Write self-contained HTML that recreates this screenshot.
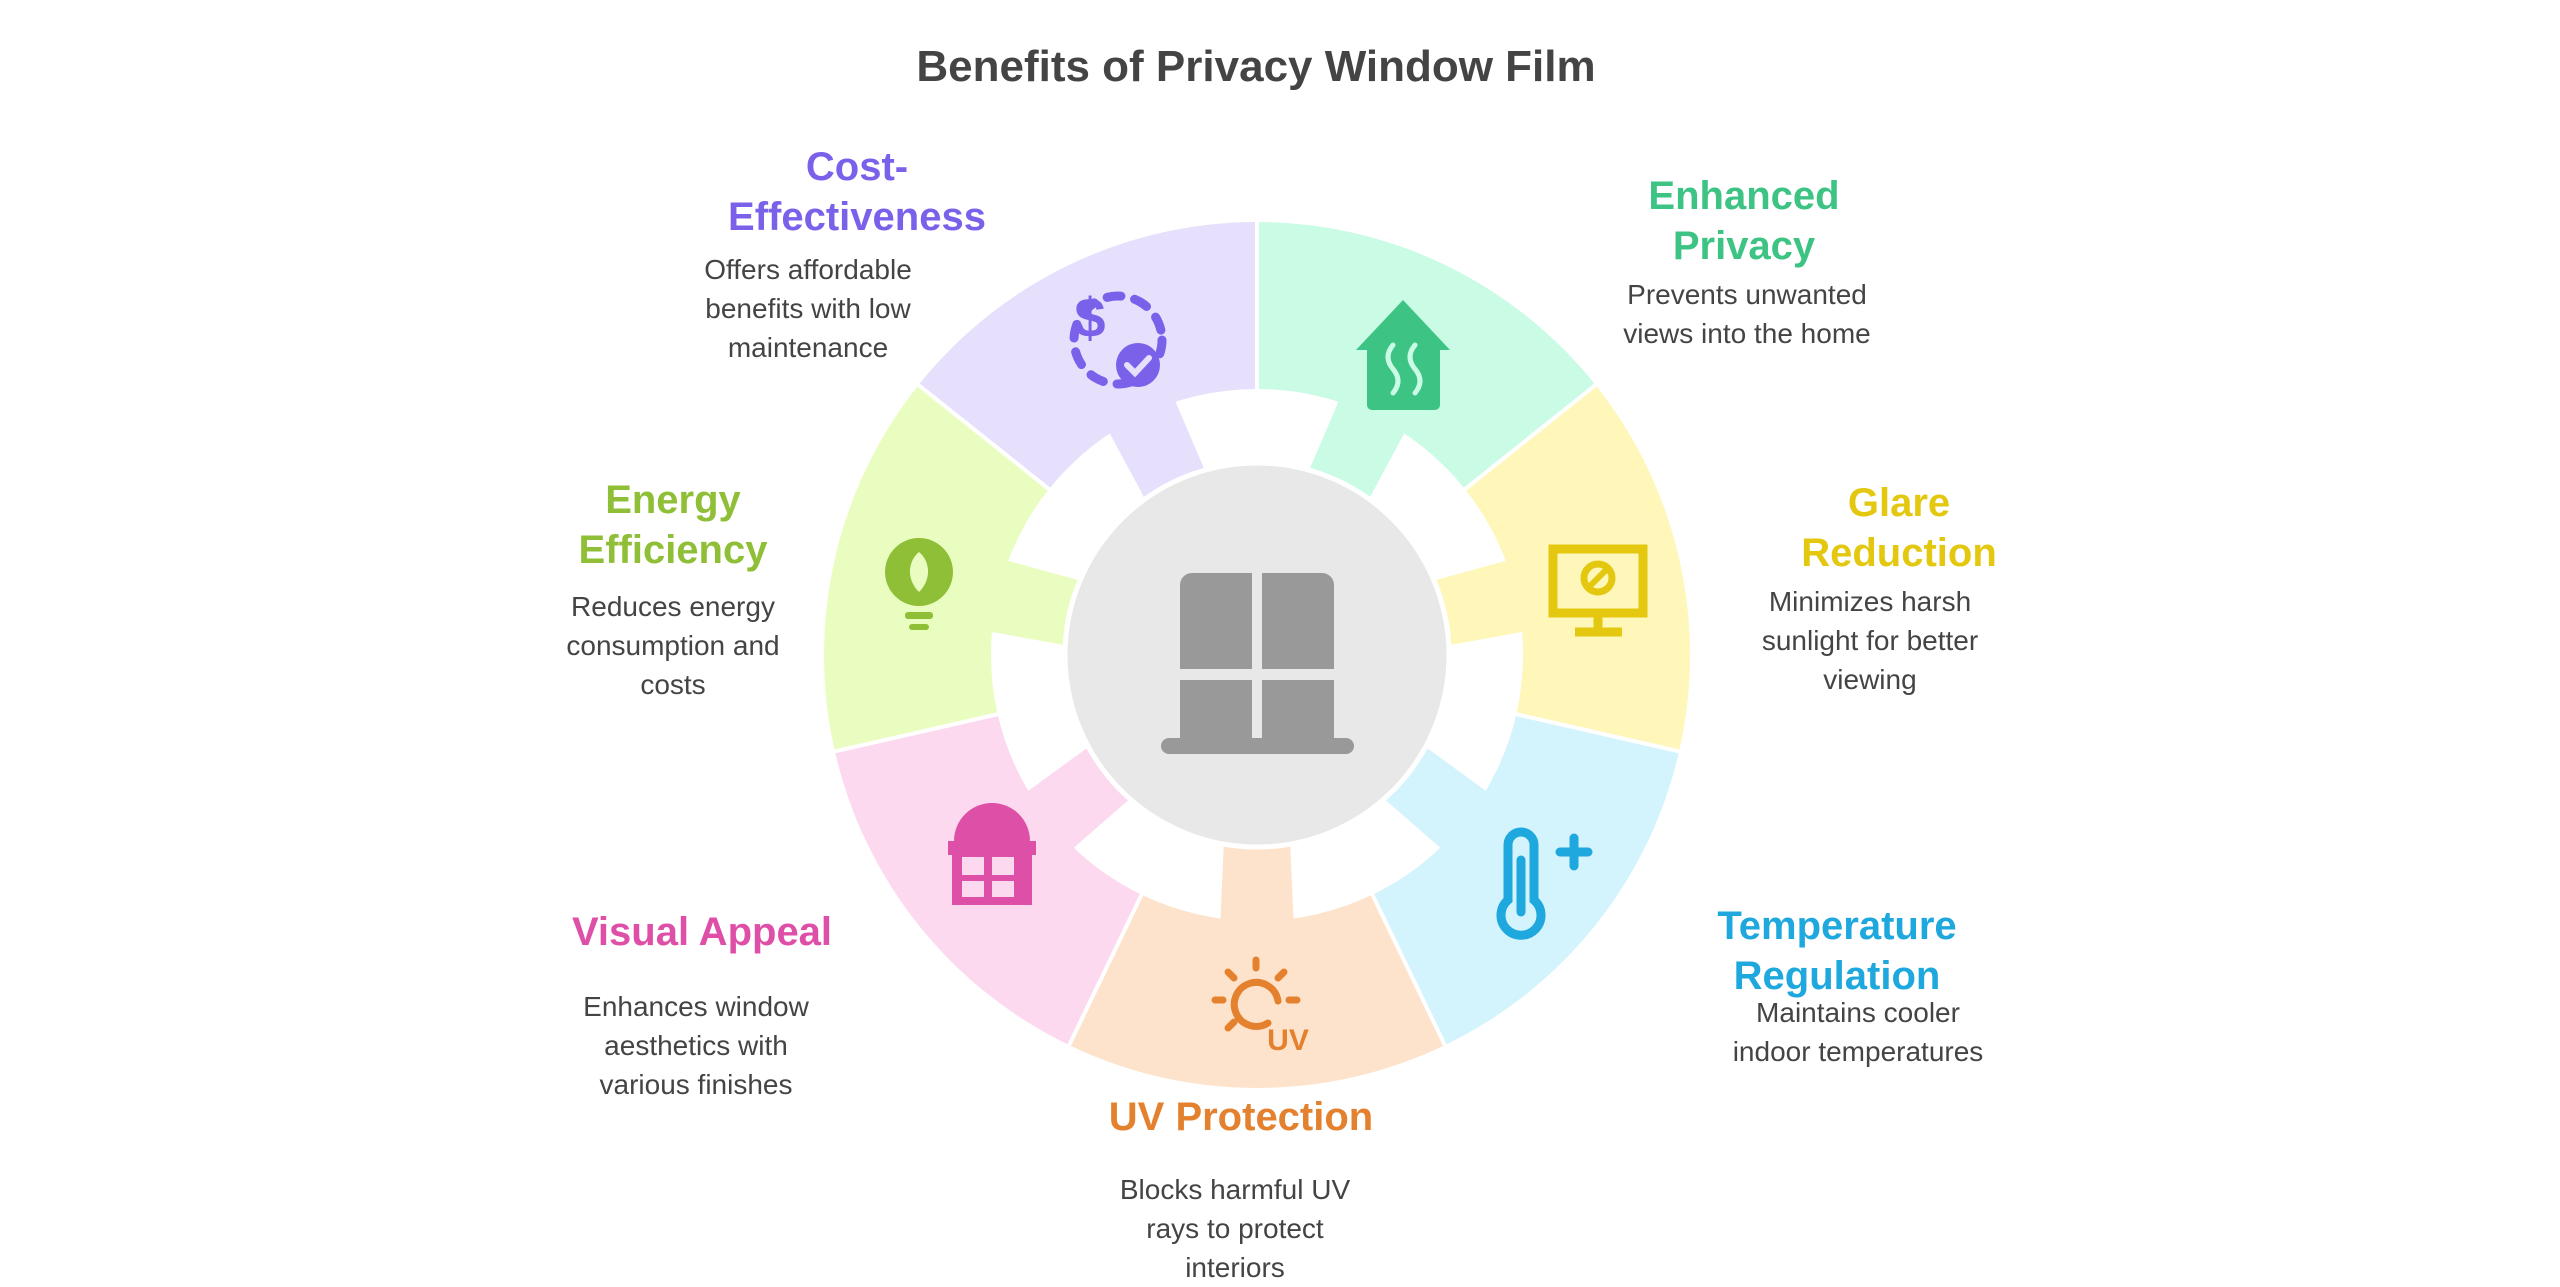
<!DOCTYPE html>
<html><head><meta charset="utf-8"><style>
html,body{margin:0;padding:0;background:#fff;}
body{width:2560px;height:1280px;position:relative;overflow:hidden;font-family:"Liberation Sans",sans-serif;}
.t{position:absolute;text-align:center;font-weight:bold;font-size:40px;line-height:50px;transform:translateX(-50%);white-space:nowrap;}
.b{position:absolute;text-align:center;font-size:28px;line-height:39px;color:#444;transform:translateX(-50%);white-space:nowrap;}
</style></head><body>
<svg width="2560" height="1280" style="position:absolute;left:0;top:0">
<defs>
<g id="seg"><path d="M1257,222 A433,433 0 0 1 1595.5,385 L1465,489.1 A266,266 0 0 0 1257,389 Z"/><path transform="rotate(25.71 1257 655)" d="M1220,380 L1294,380 L1290,470 L1224,470 Z"/></g>
</defs>
<g fill="#C9FBE5"><use href="#seg"/></g>
<g fill="#FEF7B9" transform="rotate(51.43 1257 655)"><use href="#seg"/></g>
<g fill="#D3F3FD" transform="rotate(102.86 1257 655)"><use href="#seg"/></g>
<g fill="#FDE3CB" transform="rotate(154.29 1257 655)"><use href="#seg"/></g>
<g fill="#FCD9EF" transform="rotate(205.71 1257 655)"><use href="#seg"/></g>
<g fill="#EAFDC0" transform="rotate(257.14 1257 655)"><use href="#seg"/></g>
<g fill="#E6E0FD" transform="rotate(308.57 1257 655)"><use href="#seg"/></g>
<g stroke="#fff" stroke-width="4">
<line x1="1257" y1="655" x2="1257" y2="210" transform="rotate(0 1257 655)"/>
<line x1="1257" y1="655" x2="1257" y2="210" transform="rotate(51.43 1257 655)"/>
<line x1="1257" y1="655" x2="1257" y2="210" transform="rotate(102.86 1257 655)"/>
<line x1="1257" y1="655" x2="1257" y2="210" transform="rotate(154.29 1257 655)"/>
<line x1="1257" y1="655" x2="1257" y2="210" transform="rotate(205.71 1257 655)"/>
<line x1="1257" y1="655" x2="1257" y2="210" transform="rotate(257.14 1257 655)"/>
<line x1="1257" y1="655" x2="1257" y2="210" transform="rotate(308.57 1257 655)"/>
</g>
<circle cx="1257" cy="655" r="192" fill="#E8E8E8" stroke="#fff" stroke-width="5"/>
<!-- center window -->
<g fill="#999">
<path d="M1180,585 a12,12 0 0 1 12,-12 h60 v96 h-72 Z"/>
<path d="M1262,573 h60 a12,12 0 0 1 12,12 v84 h-72 Z"/>
<rect x="1180" y="680" width="72" height="70"/>
<rect x="1262" y="680" width="72" height="70"/>
<rect x="1161" y="738" width="193" height="16" rx="8"/>
</g>
<!-- purple icon -->
<g fill="none" stroke="#7B61EA" stroke-width="9" stroke-linecap="round">
<circle cx="1118" cy="340" r="44" stroke-dasharray="14 14"/>
</g>
<text x="1090" y="337" font-size="56" font-weight="bold" fill="#7B61EA" text-anchor="middle" font-family="Liberation Sans">$</text>
<circle cx="1138" cy="365" r="22" fill="#7B61EA"/>
<path d="M1127,365 l8,8 l14,-15" stroke="#E6E0FD" stroke-width="6" fill="none" stroke-linecap="round"/>
<!-- green house -->
<path d="M1403,300 L1450,350 L1440,350 L1440,405 a5,5 0 0 1 -5,5 H1372 a5,5 0 0 1 -5,-5 V350 H1356 Z" fill="#3DC383"/>
<path d="M1393,345 q-10,12 0,24 q10,12 0,24 M1415,345 q-10,12 0,24 q10,12 0,24" stroke="#C9FBE5" stroke-width="5" fill="none" stroke-linecap="round"/>
<!-- yellow monitor -->
<g stroke="#E3C80F" stroke-width="9" fill="none">
<rect x="1553" y="549" width="90" height="64"/>
<line x1="1598" y1="613" x2="1598" y2="632"/><line x1="1575" y1="632" x2="1622" y2="632"/>
<circle cx="1598" cy="578" r="14" stroke-width="7"/><line x1="1590" y1="586" x2="1606" y2="570" stroke-width="6"/>
</g>
<!-- blue thermometer -->
<g stroke="#1FA8DD" stroke-width="9" fill="none" stroke-linecap="round">
<path d="M1508,900 V845 a13,13 0 0 1 26,0 V900 a20,20 0 1 1 -26,0 Z"/>
<line x1="1521" y1="860" x2="1521" y2="912"/>
<line x1="1560" y1="852" x2="1588" y2="852"/><line x1="1574" y1="838" x2="1574" y2="866"/>
</g>
<!-- orange sun -->
<g stroke="#E4812E" stroke-width="7" fill="none" stroke-linecap="round">
<path d="M1268,1023 a22,22 0 1 1 10,-22"/>
<line x1="1256" y1="960" x2="1256" y2="968"/><line x1="1228" y1="972" x2="1234" y2="978"/><line x1="1284" y1="972" x2="1278" y2="978"/>
<line x1="1215" y1="1000" x2="1223" y2="1000"/><line x1="1289" y1="1000" x2="1297" y2="1000"/><line x1="1228" y1="1028" x2="1234" y2="1022"/>
</g>
<text x="1288" y="1050" font-size="30" font-weight="bold" fill="#E4812E" text-anchor="middle">UV</text>
<!-- pink window -->
<path d="M952,905 V855 h-4 v-14 h6 a38,38 0 0 1 76,0 h6 v14 h-4 V905 Z" fill="#DE4FA8"/>
<g fill="#FCD9EF"><rect x="962" y="857" width="22" height="18"/><rect x="992" y="857" width="22" height="18"/><rect x="962" y="881" width="22" height="16"/><rect x="992" y="881" width="22" height="16"/></g>
<!-- lime bulb -->
<circle cx="919" cy="572" r="34" fill="#8FBF36"/>
<path d="M919,592 c-14,-14 -10,-32 0,-40 c10,8 14,26 0,40 Z" fill="#EAFDC0"/>
<rect x="905" y="612" width="28" height="7" rx="3" fill="#8FBF36"/><rect x="909" y="624" width="20" height="6" rx="3" fill="#8FBF36"/>
</svg>
<div class="t" style="left:1256px;top:42px;font-size:44px;color:#444">Benefits of Privacy Window Film</div>
<div class="t" style="left:857px;top:142px;color:#7B61EA">Cost-<br>Effectiveness</div>
<div class="b" style="left:808px;top:250px">Offers affordable<br>benefits with low<br>maintenance</div>
<div class="t" style="left:1744px;top:171px;color:#3DC383">Enhanced<br>Privacy</div>
<div class="b" style="left:1747px;top:275px">Prevents unwanted<br>views into the home</div>
<div class="t" style="left:1899px;top:478px;color:#E3C80F">Glare<br>Reduction</div>
<div class="b" style="left:1870px;top:582px">Minimizes harsh<br>sunlight for better<br>viewing</div>
<div class="t" style="left:1837px;top:901px;color:#1FA8DD">Temperature<br>Regulation</div>
<div class="b" style="left:1858px;top:993px">Maintains cooler<br>indoor temperatures</div>
<div class="t" style="left:1241px;top:1092px;color:#E4812E">UV Protection</div>
<div class="b" style="left:1235px;top:1170px">Blocks harmful UV<br>rays to protect<br>interiors</div>
<div class="t" style="left:702px;top:907px;color:#DE4FA8">Visual Appeal</div>
<div class="b" style="left:696px;top:987px">Enhances window<br>aesthetics with<br>various finishes</div>
<div class="t" style="left:673px;top:475px;color:#8FBF36">Energy<br>Efficiency</div>
<div class="b" style="left:673px;top:587px">Reduces energy<br>consumption and<br>costs</div>
</body></html>
